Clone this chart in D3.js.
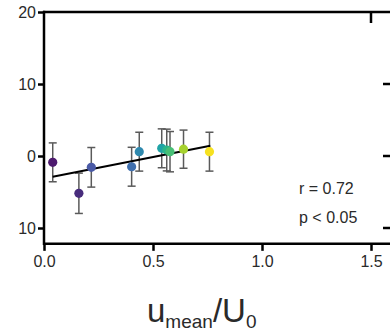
<!DOCTYPE html>
<html><head><meta charset="utf-8">
<script src="https://cdn.jsdelivr.net/npm/d3@7"></script>
<style>html,body{margin:0;padding:0;background:#fff;}svg{display:block;}</style>
</head><body>
<svg id="c" width="390" height="332"></svg>
<script>
const xVals = [0.04, 0.16, 0.217, 0.402, 0.437, 0.54, 0.563, 0.578, 0.64, 0.759];
const yVals = [-0.88, -5.18, -1.57, -1.49, 0.6, 1.07, 0.83, 0.6, 0.95, 0.6];
const yErr = [2.7, 2.8, 2.75, 2.7, 2.7, 2.7, 2.9, 2.8, 2.65, 2.7];
const colors = ["#4d1a6e", "#482c7c", "#4a5aa6", "#3f6fae", "#2f89ae", "#20a3a6", "#2cb58c", "#48bf76", "#a6d22e", "#f6e120"];
const fitX = [0.04, 0.763];
const fitY = [-2.87, 1.43];
const xTicks = [0, 0.5, 1.0, 1.5];
const xTickLabels = ["0.0", "0.5", "1.0", "1.5"];
const yTicks = [20, 10, 0, -10];
const yTickLabels = ["20", "10", "0", "10"];
const statLines = ["r = 0.72", "p < 0.05"];

const svg = d3.select("#c");
const x = d3.scaleLinear().domain([0, 1.5]).range([44, 371]);
const y = d3.scaleLinear().domain([-10, 20]).range([228, 12]);
const font = "'Liberation Sans', Arial, sans-serif";
const yBottom = y(-12.2);

// error bars
const g = svg.append("g");
xVals.forEach((xv, i) => {
  const cx = x(xv), y1 = y(yVals[i] + yErr[i]), y2 = y(yVals[i] - yErr[i]);
  g.append("line").attr("x1", cx).attr("x2", cx).attr("y1", y1).attr("y2", y2)
    .attr("stroke", "#5a5a5a").attr("stroke-width", 1.5);
  [y1, y2].forEach(yy => g.append("line").attr("x1", cx - 4).attr("x2", cx + 4)
    .attr("y1", yy).attr("y2", yy).attr("stroke", "#5a5a5a").attr("stroke-width", 1.5));
});

// fit line
svg.append("line").attr("x1", x(fitX[0])).attr("y1", y(fitY[0]))
  .attr("x2", x(fitX[1])).attr("y2", y(fitY[1]))
  .attr("stroke", "#000").attr("stroke-width", 2);

// points
svg.append("g").selectAll("circle").data(xVals).join("circle")
  .attr("cx", d => x(d)).attr("cy", (d, i) => y(yVals[i])).attr("r", 4.6)
  .attr("fill", (d, i) => colors[i]);

// axes
const yAxis = d3.axisLeft(y).tickValues(yTicks).tickSize(6).tickPadding(2)
  .tickFormat((d, i) => yTickLabels[i]);
const ya = svg.append("g").attr("transform", "translate(44,0)").call(yAxis);
ya.select(".domain").remove();
ya.selectAll(".tick line").attr("stroke", "#000").attr("stroke-width", 2.5);
ya.selectAll(".tick text").attr("font-family", font).attr("font-size", 16).attr("fill", "#2a2a2a");

const xAxis = d3.axisBottom(x).tickValues(xTicks).tickSize(7).tickPadding(5)
  .tickFormat((d, i) => xTickLabels[i]);
const xa = svg.append("g").attr("transform", `translate(0,${yBottom})`).call(xAxis);
xa.select(".domain").remove();
xa.selectAll(".tick line").attr("stroke", "#000").attr("stroke-width", 2.5);
xa.selectAll(".tick text").attr("font-family", font).attr("font-size", 16).attr("fill", "#2a2a2a");

svg.append("line").attr("x1", 44).attr("x2", 44).attr("y1", y(20) - 1.2).attr("y2", yBottom + 1.2)
  .attr("stroke", "#000").attr("stroke-width", 2.5);
svg.append("line").attr("x1", 43).attr("x2", 390).attr("y1", yBottom).attr("y2", yBottom)
  .attr("stroke", "#000").attr("stroke-width", 2.5);
// top line (neighbouring panel axis)
svg.append("line").attr("x1", 43).attr("x2", 390).attr("y1", y(20)).attr("y2", y(20))
  .attr("stroke", "#000").attr("stroke-width", 2.5);
svg.append("line").attr("x1", x(1.5)).attr("x2", x(1.5)).attr("y1", y(20)).attr("y2", y(20) + 11)
  .attr("stroke", "#000").attr("stroke-width", 2.5);
// right neighbouring-panel ticks
yTicks.slice(1).forEach(t => svg.append("line").attr("x1", 383).attr("x2", 390)
  .attr("y1", y(t)).attr("y2", y(t)).attr("stroke", "#000").attr("stroke-width", 2.5));

// stats
statLines.forEach((s, i) => svg.append("text").attr("x", 299).attr("y", 194 + i * 29)
  .attr("font-family", font).attr("font-size", 16).attr("fill", "#2a2a2a").text(s));

// x label
const lab = svg.append("text").attr("x", 147).attr("y", 322)
  .attr("font-family", font).attr("fill", "#2a2a2a");
lab.append("tspan").attr("font-size", 33).text("u");
lab.append("tspan").attr("font-size", 19).attr("dy", 6).text("mean");
lab.append("tspan").attr("font-size", 33).attr("dy", -6).text("/U");
lab.append("tspan").attr("font-size", 19).attr("dy", 6).text("0");
</script>
</body></html>
